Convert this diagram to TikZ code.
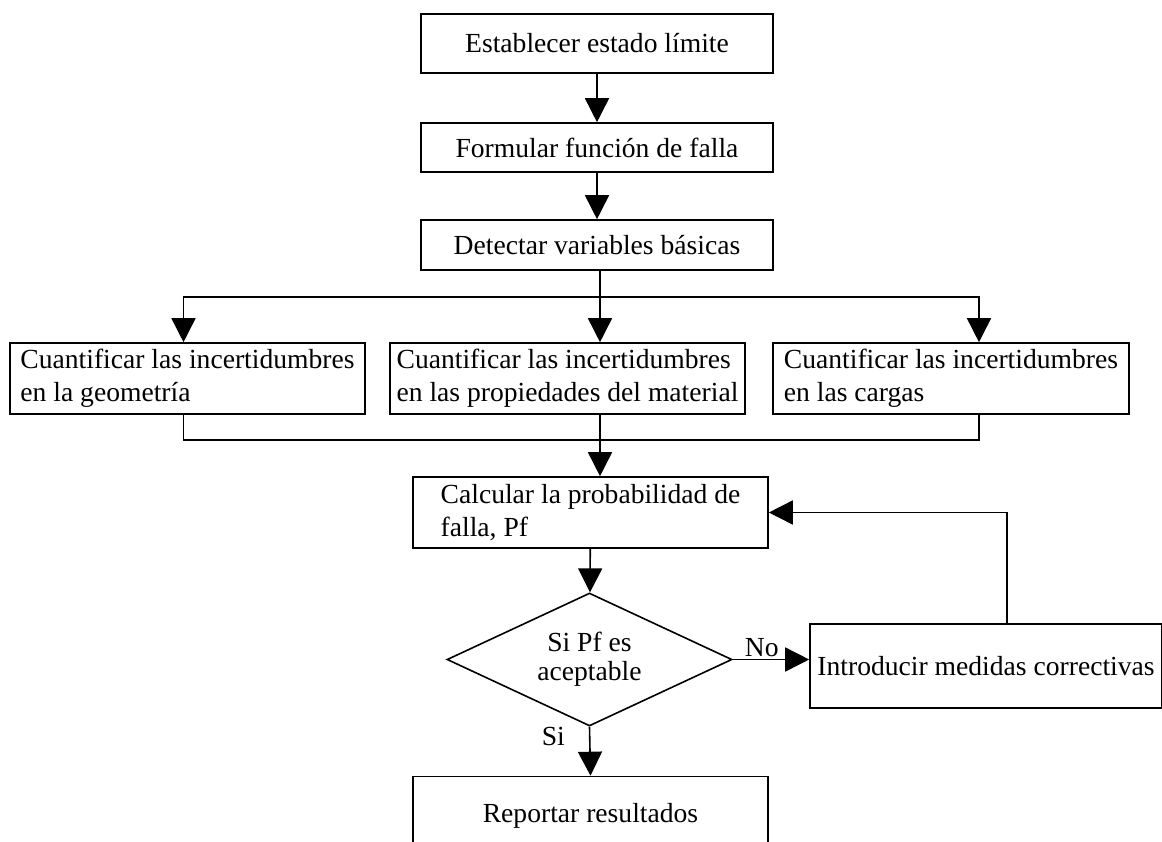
\documentclass[tikz,border=0pt]{standalone}
\usepackage{fontspec}
\setmainfont{Liberation Serif}
\usepackage{tikz}
\usetikzlibrary{positioning,shapes.geometric,arrows.meta}
\tikzset{
  font=\fontsize{13.8}{16.5}\selectfont,
  >={Triangle[width=12pt,length=12pt]},
  paso/.style     = {draw, rectangle, line width=0.8pt, align=center,
                     inner xsep=2pt, inner ysep=2pt},
  doble/.style    = {paso, align=left, minimum width=177.5pt, minimum height=35.5pt},
  decision/.style = {draw, diamond, aspect=2.14, line width=0.8pt, align=center,
                     inner sep=0pt, minimum width=142.5pt, minimum height=66.5pt},
  flecha/.style   = {->, line width=0.8pt},
  linea/.style    = {line width=0.8pt},
  rotulo/.style   = {inner sep=1pt},
}

\begin{document}
\begin{tikzpicture}[x=0.5pt, y=-0.5pt]
\useasboundingbox (0,0) rectangle (1162,841);

% ---------------- upper chain -----------------------------------------
\node[paso, minimum width=176pt, minimum height=29.5pt] at (597,43.5) (est)
  {Establecer estado límite};
\node[paso, minimum width=176pt, minimum height=24.5pt] at (597,147.5) (form)
  {Formular función de falla};
\node[paso, minimum width=176pt, minimum height=25pt] at (597,245) (det)
  {Detectar variables básicas};

\draw[flecha] (est) -- (form);
\draw[flecha] (form) -- (det);

% ---------------- three uncertainties ---------------------------------
\node[doble] at (187.5,378.5) (geo)
  {Cuantificar las incertidumbres\\en la geometría};
\node[doble] at (567.5,378.5) (mat)
  {Cuantificar las incertidumbres\\en las propiedades del material};
\node[doble, minimum width=178pt] at (951,378.5) (car)
  {Cuantificar las incertidumbres\\en las cargas};

\coordinate (split) at (600,297);
\coordinate (join) at (600,440);

\draw[linea] (det.south -| split) -- (split);
\draw[flecha] (split) -| ([xshift=-2pt]geo.north);
\draw[flecha] (split) -- (split |- mat.north);
\draw[flecha] (split) -| ([xshift=14pt]car.north);

\draw[linea] ([xshift=-2pt]geo.south) |- (join) -| ([xshift=14pt]car.south);
\draw[linea] (join |- mat.south) -- (join);

% ---------------- probability and decision ----------------------------
\node[doble] at (590.5,512.5) (calc)
  {Calcular la probabilidad de\\falla, Pf};
\node[decision] at (589.5,659.5) (dec)
  {Si Pf es\\[-2pt]aceptable};
\node[paso, minimum width=176pt, minimum height=42pt] at (986,666) (intr)
  {Introducir medidas correctivas};
\node[paso, minimum width=177.5pt, minimum height=39pt] at (590.5,815.5) (rep)
  {Reportar resultados};

\draw[flecha] (join) -- (join |- calc.north);
\draw[flecha] (calc) -- (dec);
\draw[flecha] (dec.east) -- node[rotulo, pos=0.38, above] {No} (dec.east -| intr.west);
\draw[flecha] (dec.south) -- node[rotulo, pos=0.2, left=11pt] {Si} (rep.north);

% back to the calculation
\draw[flecha] ([xshift=10.5pt]intr.north) |- (calc.east);

\end{tikzpicture}
\end{document}
